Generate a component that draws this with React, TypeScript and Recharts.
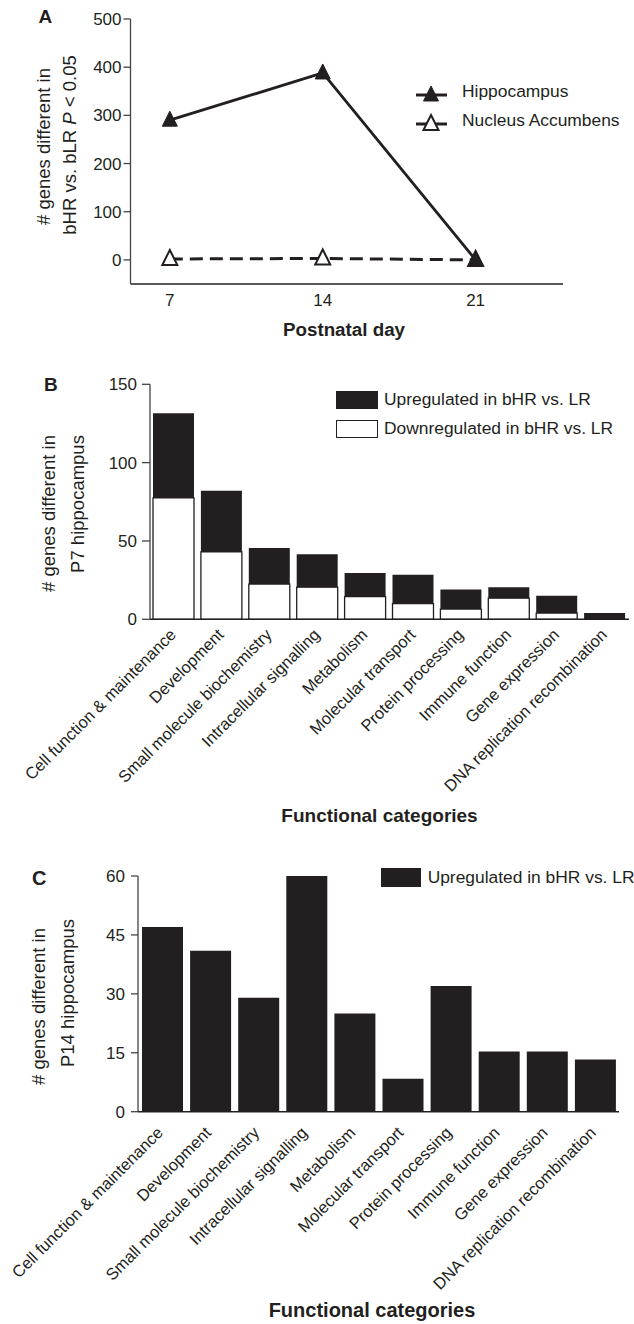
import React from "react";
import { Bar, BarChart, Legend, Line, LineChart, XAxis, YAxis } from "recharts";

const FONT = '"Liberation Sans", Arial, Helvetica, sans-serif';
const INK = "#231f20";

// panel A
const days = [7, 14, 21];
const dayTicks = [7, 14, 21];
const hippocampus = [290, 388, 0];
const nucleusAccumbens = [2, 3, 0];
const countTicksA = [0, 100, 200, 300, 400, 500];

// panels B and C
const categories = [
  "Cell function & maintenance",
  "Development",
  "Small molecule biochemistry",
  "Intracellular signalling",
  "Metabolism",
  "Molecular transport",
  "Protein processing",
  "Immune function",
  "Gene expression",
  "DNA replication recombination",
];
const p7Down = [77.5, 43, 22.5, 20.5, 14.5, 10, 6.5, 13.5, 4, 0];
const p7Up = [54, 39, 23, 21, 15, 18.5, 12.5, 7, 11, 4];
const countTicksB = [0, 50, 100, 150];
const p14Up = [47, 41, 29, 60, 25, 8.4, 32, 15.3, 15.3, 13.3];
const countTicksC = [0, 15, 30, 45, 60];

const lineData = days.map((d, i) => ({
  day: d,
  hippocampus: hippocampus[i],
  nucleus: nucleusAccumbens[i],
}));
const p7Data = categories.map((c, i) => ({ name: c, down: p7Down[i], up: p7Up[i] }));
const p14Data = categories.map((c, i) => ({ name: c, up: p14Up[i] }));

const tickFont = { fill: INK, fontSize: 17, fontFamily: FONT };

function Tri({ cx, cy, filled }: any) {
  if (cx == null || cy == null) return null;
  const pts = `${cx},${cy - 9} ${cx + 7.5},${cy + 6} ${cx - 7.5},${cy + 6}`;
  return (
    <polygon
      points={pts}
      fill={filled ? INK : "#fff"}
      stroke={INK}
      strokeWidth={filled ? 1 : 2}
    />
  );
}

function CatTick({ x, y, payload, offX, offY }: any) {
  const ax = x + offX;
  const ay = y + offY;
  return (
    <text
      x={ax}
      y={ay}
      transform={`rotate(-45 ${ax} ${ay})`}
      textAnchor="end"
      fontSize={16.5}
      fontFamily={FONT}
      fill={INK}
    >
      {payload.value}
    </text>
  );
}

function YTitle({ x1, y1, x2, y2, letter, lx, ly, lsize, line1, line2 }: any) {
  return (
    <g fontFamily={FONT} fill={INK}>
      <text transform={`translate(${x1},${y1}) rotate(-90)`} textAnchor="middle" fontSize={18.5}>
        {line1}
      </text>
      <text transform={`translate(${x2},${y2}) rotate(-90)`} textAnchor="middle" fontSize={18.5}>
        {line2}
      </text>
      <text x={lx} y={ly} fontSize={lsize} fontWeight="bold">
        {letter}
      </text>
    </g>
  );
}

function LineLegend({ payload }: any) {
  const items = ["hippocampus", "nucleus"]
    .map((k) => (payload || []).find((p: any) => p.dataKey === k))
    .filter(Boolean);
  return (
    <div style={{ fontFamily: FONT, fontSize: 17.4, color: INK }}>
      {items.map((p: any, i: number) => (
        <div
          key={p.value}
          style={{ display: "flex", alignItems: "center", height: 20, marginBottom: i === 0 ? 9 : 0 }}
        >
          <svg width={32} height={20} style={{ display: "block" }}>
            <line x1={0} x2={31} y1={13} y2={13} stroke={INK} strokeWidth={3} />
            <Tri cx={15} cy={13} filled={p.dataKey === "hippocampus"} />
          </svg>
          <span style={{ marginLeft: 14, lineHeight: 1 }}>{p.value}</span>
        </div>
      ))}
    </div>
  );
}

function BoxLegend({ payload, order, w, h, gap }: any) {
  const items = order
    .map((k: string) => (payload || []).find((p: any) => p.dataKey === k))
    .filter(Boolean);
  return (
    <div style={{ fontFamily: FONT, fontSize: 17.4, color: INK }}>
      {items.map((p: any, i: number) => (
        <div
          key={p.dataKey}
          style={{ display: "flex", alignItems: "center", height: h, marginBottom: i === 0 ? 11 : 0 }}
        >
          <div
            style={{
              width: w,
              height: h,
              boxSizing: "border-box",
              background: p.color,
              border: `1.3px solid ${INK}`,
            }}
          />
          <span style={{ marginLeft: gap, lineHeight: 1, whiteSpace: "nowrap" }}>{p.value}</span>
        </div>
      ))}
    </div>
  );
}

export default function App() {
  return (
    <div style={{ position: "absolute", left: 0, top: 0, width: 634, height: 1324, background: "#fff" }}>
      <div style={{ position: "absolute", left: 0, top: 0 }}>
        <LineChart width={634} height={340} data={lineData} margin={{ top: 19, right: 71, bottom: 26, left: 90.5 }}>
          <XAxis
            dataKey="day"
            type="number"
            domain={[5.2, 25]}
            ticks={dayTicks}
            tickLine={false}
            tickSize={6}
            tickMargin={4}
            height={30}
            stroke={INK}
            strokeWidth={1.5}
            tick={tickFont}
            label={() => (
              <text x={344} y={335.5} textAnchor="middle" fontFamily={FONT} fontSize={18.8} fontWeight="bold" fill={INK}>
                Postnatal day
              </text>
            )}
          />
          <YAxis
            domain={[-50, 500]}
            ticks={countTicksA}
            width={40}
            tickSize={7}
            tickMargin={2}
            stroke="#444"
            strokeWidth={1.3}
            tick={tickFont}
            label={() => (
              <YTitle
                x1={49.5}
                y1={146.5}
                x2={75.5}
                y2={145}
                letter="A"
                lx={38.6}
                ly={23}
                lsize={19}
                line1="# genes different in"
                line2={
                  <>
                    bHR vs. bLR <tspan fontStyle="italic">P</tspan> {"< 0.05"}
                  </>
                }
              />
            )}
          />
          <Legend
            layout="horizontal"
            verticalAlign="middle"
            align="center"
            wrapperStyle={{ left: 416, top: 82, width: 220 }}
            content={(props: any) => <LineLegend {...props} />}
          />
          <Line
            type="linear"
            dataKey="nucleus"
            name="Nucleus Accumbens"
            stroke={INK}
            strokeWidth={3}
            strokeDasharray="13 7"
            dot={(p: any) => <Tri key={`n${p.index}`} cx={p.cx} cy={p.cy} />}
            isAnimationActive={false}
          />
          <Line
            type="linear"
            dataKey="hippocampus"
            name="Hippocampus"
            stroke={INK}
            strokeWidth={2.8}
            dot={(p: any) => <Tri key={`h${p.index}`} cx={p.cx} cy={p.cy} filled />}
            isAnimationActive={false}
          />
        </LineChart>
      </div>

      <div style={{ position: "absolute", left: 0, top: 340 }}>
        <BarChart width={634} height={500} data={p7Data} barSize={41} margin={{ top: 44.3, right: 5, bottom: 20.7, left: 110 }}>
          <XAxis
            dataKey="name"
            interval={0}
            tickLine={false}
            tickSize={0}
            tickMargin={0}
            height={200}
            stroke={INK}
            strokeWidth={1.5}
            tick={(p: any) => <CatTick {...p} offX={3} offY={16.5} />}
            label={() => (
              <text x={379.5} y={482} textAnchor="middle" fontFamily={FONT} fontSize={19} fontWeight="bold" fill={INK}>
                Functional categories
              </text>
            )}
          />
          <YAxis
            domain={[0, 150]}
            ticks={countTicksB}
            width={40}
            tickSize={8}
            tickMargin={5}
            stroke="#444"
            strokeWidth={1.3}
            tick={tickFont}
            label={() => (
              <YTitle
                x1={55}
                y1={173.5}
                x2={83.5}
                y2={164}
                letter="B"
                lx={44}
                ly={51}
                lsize={19}
                line1="# genes different in"
                line2="P7 hippocampus"
              />
            )}
          />
          <Legend
            layout="horizontal"
            verticalAlign="middle"
            align="center"
            wrapperStyle={{ left: 336, top: 51, width: 290 }}
            content={(props: any) => <BoxLegend {...props} order={["up", "down"]} w={41.5} h={18} gap={6.5} />}
          />
          <Bar dataKey="down" name="Downregulated in bHR vs. LR" stackId="p7" fill="#fff" stroke={INK} strokeWidth={1.3} isAnimationActive={false} />
          <Bar dataKey="up" name="Upregulated in bHR vs. LR" stackId="p7" fill={INK} isAnimationActive={false} />
        </BarChart>
      </div>

      <div style={{ position: "absolute", left: 0, top: 840 }}>
        <BarChart width={634} height={484} data={p14Data} barSize={41} margin={{ top: 36, right: 15, bottom: 12.3, left: 98 }}>
          <XAxis
            dataKey="name"
            interval={0}
            tickLine={false}
            tickSize={0}
            tickMargin={0}
            height={200}
            stroke={INK}
            strokeWidth={1.5}
            tick={(p: any) => <CatTick {...p} offX={2} offY={22} />}
            label={() => (
              <text x={372} y={476.7} textAnchor="middle" fontFamily={FONT} fontSize={20} fontWeight="bold" fill={INK}>
                Functional categories
              </text>
            )}
          />
          <YAxis
            domain={[0, 60]}
            ticks={countTicksC}
            width={40}
            tickSize={7}
            tickMargin={6}
            stroke="#444"
            strokeWidth={1.3}
            tick={tickFont}
            label={() => (
              <YTitle
                x1={45}
                y1={166.5}
                x2={73.5}
                y2={153}
                letter="C"
                lx={32}
                ly={45}
                lsize={20}
                line1="# genes different in"
                line2="P14 hippocampus"
              />
            )}
          />
          <Legend
            layout="horizontal"
            verticalAlign="middle"
            align="center"
            wrapperStyle={{ left: 380.5, top: 28, width: 254 }}
            content={(props: any) => <BoxLegend {...props} order={["up"]} w={42} h={19} gap={6.5} />}
          />
          <Bar dataKey="up" name="Upregulated in bHR vs. LR" fill={INK} isAnimationActive={false} />
        </BarChart>
      </div>
    </div>
  );
}
